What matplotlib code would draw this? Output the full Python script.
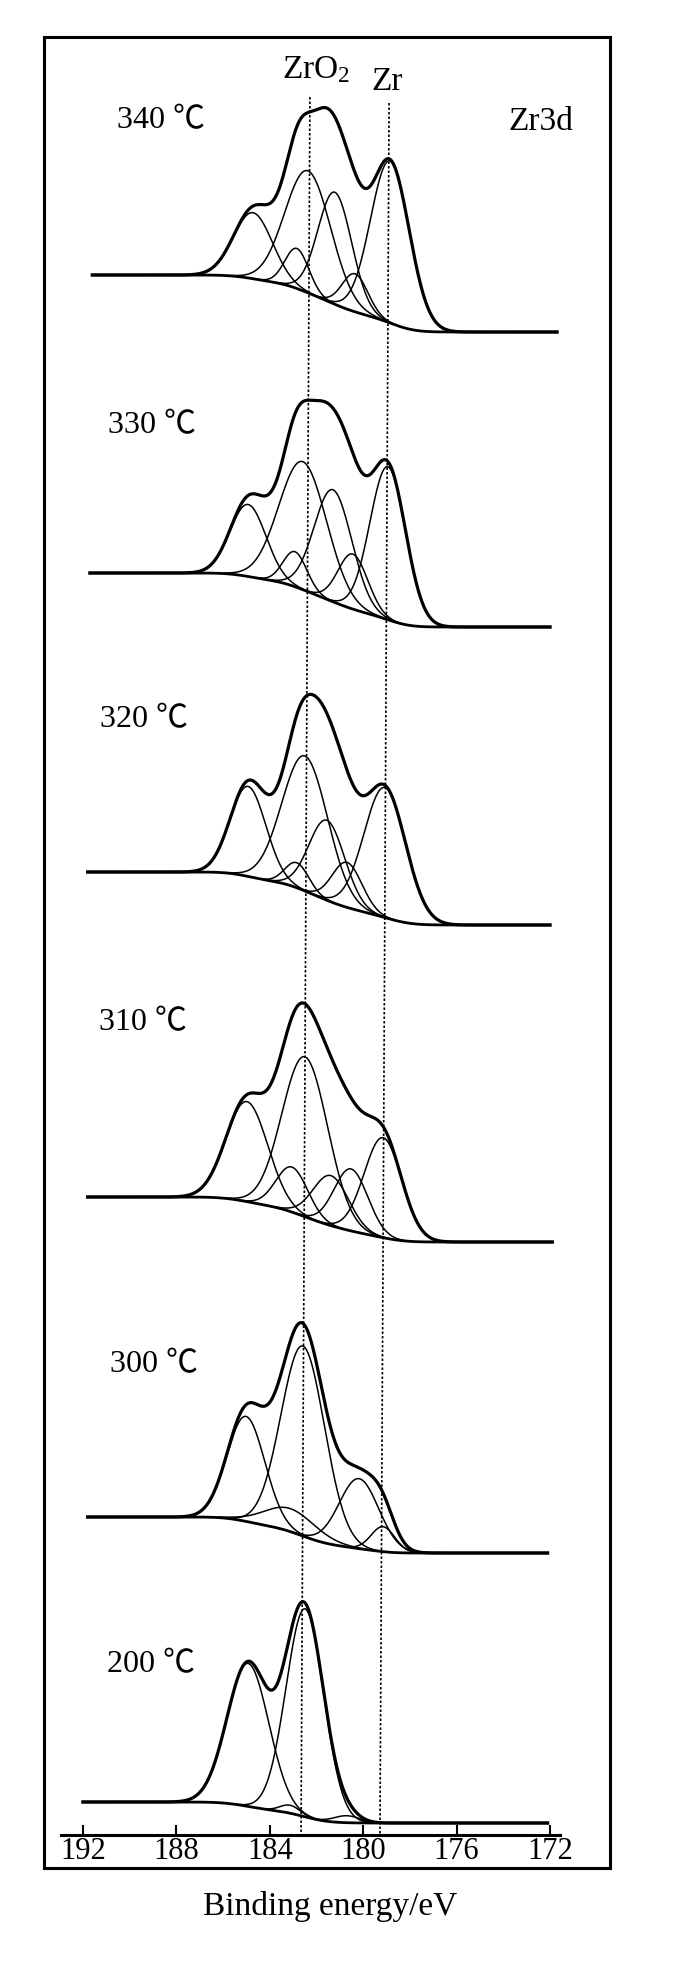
import numpy as np
import matplotlib.pyplot as plt

plt.rcParams['font.family'] = ['Liberation Serif', 'Noto Sans CJK SC', 'DejaVu Sans']
plt.rcParams['mathtext.default'] = 'regular'

# spectra from top to bottom
temps = ['340 ℃', '330 ℃', '320 ℃', '310 ℃', '300 ℃', '200 ℃']

# background level (a.u.) on the high and low binding energy side
bg_high = [1560, 1262, 963, 638, 318, 33]
bg_low = [1503, 1208, 910, 593, 282, 12]

# recorded range of every scan (eV)
scan_start = [191.6, 191.7, 191.8, 191.8, 191.8, 192.0]
scan_end = [171.7, 172.0, 172.0, 171.9, 172.1, 172.1]

# fitted components: centre (eV), height above background (a.u.), FWHM (eV)
peak_pos = [
    [184.72, 182.36, 182.84, 181.21, 180.35, 178.85],
    [184.93, 182.58, 182.92, 181.29, 180.44, 178.94],
    [184.93, 182.49, 182.84, 181.55, 180.69, 179.07],
    [184.98, 182.49, 183.05, 181.38, 180.52, 179.15],
    [185.02, 182.58, 183.13, 180.18, 179.15],
    [184.93, 182.49, 183.13, 180.70],
]
peak_height = [
    [66, 122, 40, 112, 38, 162],
    [72, 128, 35, 112, 55, 153],
    [90, 135, 25, 80, 45, 130],
    [100, 160, 45, 50, 62, 100],
    [105, 190, 23, 70, 25],
    [143, 208, 8, 7],
]
peak_fwhm = [
    [1.95, 2.30, 1.20, 1.70, 1.30, 1.95],
    [1.80, 2.40, 1.20, 1.90, 1.50, 1.80],
    [1.80, 2.30, 1.20, 1.80, 1.50, 2.10],
    [2.10, 2.30, 1.60, 1.80, 1.70, 1.90],
    [1.90, 2.20, 2.60, 2.00, 1.20],
    [2.10, 1.90, 1.00, 1.30],
]

# where the temperature labels sit (eV, a.u. baseline)
label_x = [188.66, 189.04, 189.39, 189.43, 188.96, 189.09]
label_y = [1707, 1402, 1108, 805, 463, 163]

# reference lines: energy at top, energy at bottom, top height
ref_names = ['ZrO$_2$', 'Zr']
ref_top_ev = [182.28, 178.89]
ref_bot_ev = [182.66, 179.28]
ref_top_y = [1738, 1732]
ref_label_x = [182.02, 178.98]
ref_label_y = [1757, 1745]

ticks = [192, 188, 184, 180, 176, 172]

W, H = 679, 1964
fig = plt.figure(figsize=(W / 100, H / 100), dpi=100)

# outer box
frame = fig.add_axes([44 / W, 1 - 1868 / H, 566 / W, 1831 / H])
frame.set_xticks([])
frame.set_yticks([])
frame.patch.set_alpha(0)
for s in frame.spines.values():
    s.set_linewidth(2.2)

ax = fig.add_axes([61 / W, 1 - 1835 / H, 499 / W, 1798 / H])
ax.patch.set_alpha(0)
ax.set_xlim(192.94, 171.57)
ax.set_ylim(0, 1798)

for i in range(len(temps)):
    e = np.linspace(scan_start[i], scan_end[i], 1200)
    comps = []
    for c, h, w in zip(peak_pos[i], peak_height[i], peak_fwhm[i]):
        comps.append(h * np.exp(-4 * np.log(2) * (e - c) ** 2 / w ** 2))
    total = np.sum(comps, axis=0)
    # Shirley type step background
    cum = np.cumsum(total[::-1])[::-1]
    bg = bg_low[i] + (bg_high[i] - bg_low[i]) * cum / cum[0]
    for g in comps:
        m = g > 0.3
        ax.plot(e[m], bg[m] + g[m], color='black', lw=1.1)
    ax.plot(e, bg, color='black', lw=2.0)
    ax.plot(e, bg + total, color='black', lw=2.3)
    ax.text(label_x[i], label_y[i], temps[i], fontsize=23,
            ha='center', va='baseline')

for name, et, eb, yt, lx, ly in zip(ref_names, ref_top_ev, ref_bot_ev,
                                    ref_top_y, ref_label_x, ref_label_y):
    ax.plot([et, eb], [yt, 0], color='black', lw=1.2, ls=(0, (1.5, 1.2)))
    ax.text(lx, ly, name, fontsize=24, ha='center', va='baseline')

ax.text(172.39, 1705, 'Zr3d', fontsize=24, ha='center', va='baseline')

for side in ['left', 'right', 'top']:
    ax.spines[side].set_visible(False)
ax.spines['bottom'].set_linewidth(2.2)
ax.set_yticks([])
ax.set_xticks(ticks)
ax.set_xticklabels([str(t) for t in ticks])
ax.tick_params(axis='x', direction='in', length=7, width=1.5,
               labelsize=22, pad=1.5)
ax.set_xlabel('Binding energy/eV', fontsize=24)
ax.xaxis.set_label_coords(0.539, -0.031)

fig.savefig('out.png', dpi=100)
